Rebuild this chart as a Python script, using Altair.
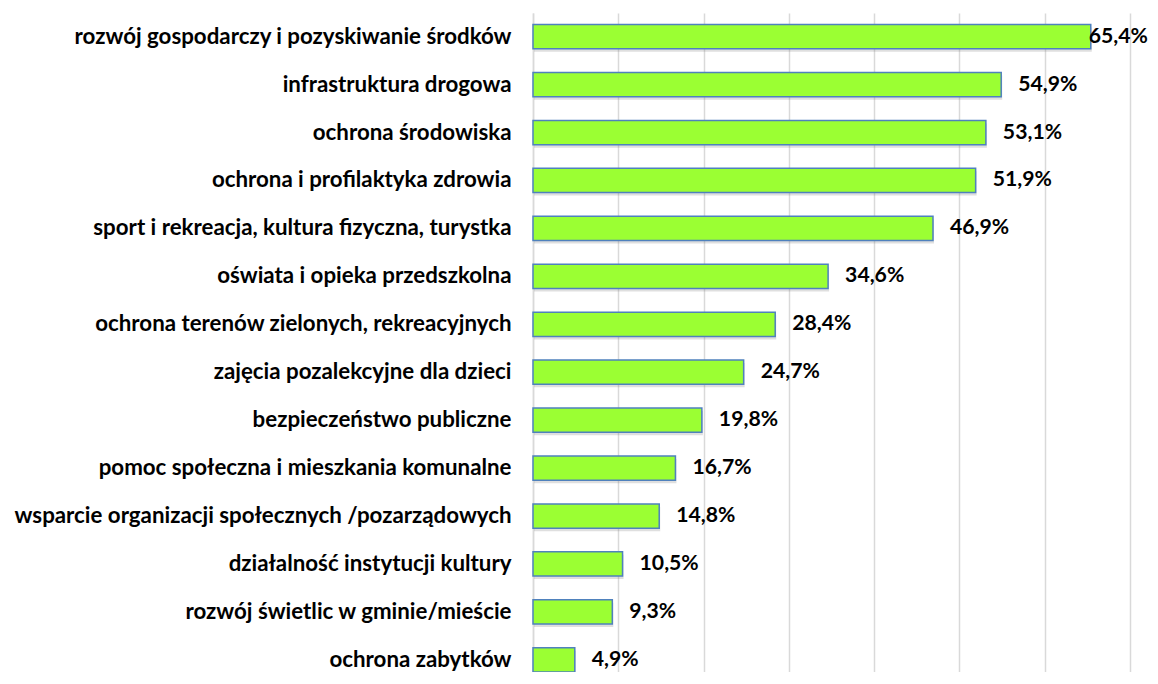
import altair as alt
import pandas as pd

categories = [
    "rozwój gospodarczy i pozyskiwanie środków",
    "infrastruktura drogowa",
    "ochrona środowiska ",
    "ochrona i profilaktyka zdrowia",
    "sport i rekreacja, kultura fizyczna, turystka",
    "oświata i opieka przedszkolna",
    "ochrona terenów zielonych, rekreacyjnych",
    "zajęcia pozalekcyjne dla dzieci",
    "bezpieczeństwo publiczne",
    "pomoc społeczna i mieszkania komunalne",
    "wsparcie organizacji społecznych /pozarządowych",
    "działalność instytucji kultury",
    "rozwój świetlic w gminie/mieście",
    "ochrona zabytków",
]
values = [65.4, 54.9, 53.1, 51.9, 46.9, 34.6, 28.4, 24.7, 19.8, 16.7, 14.8, 10.5, 9.3, 4.9]

df = pd.DataFrame({
    "cat": categories,
    "value": values,
    "label": [f"{v:.1f}%".replace(".", ",") for v in values],
})

FONT = "Lato"

y_enc = alt.Y(
    "cat:N",
    sort=None,
    scale=alt.Scale(paddingInner=0.494, paddingOuter=0.12, align=1, round=False),
    axis=alt.Axis(
        title=None,
        ticks=False,
        labelFont=FONT,
        labelFontWeight="bold",
        labelFontSize=22.3,
        labelColor="#000000",
        labelPadding=22,
        labelLimit=600,
        domainColor="#D9D9D9",
        domainWidth=1.5,
        grid=False,
    ),
)
x_enc = alt.X(
    "value:Q",
    scale=alt.Scale(domain=[0, 70], nice=False),
    axis=alt.Axis(
        title=None,
        labels=False,
        ticks=False,
        domain=False,
        values=[0, 10, 20, 30, 40, 50, 60, 70],
        grid=True,
        gridColor="#D9D9D9",
        gridWidth=1.5,
    ),
)

base = alt.Chart(df)

shadow = base.mark_bar(color="#7f7f7f", opacity=0.25, yOffset=3, xOffset=1).encode(
    x=x_enc, y=y_enc
)
bars = base.mark_bar(color="#9BFF33", stroke="#4F81BD", strokeWidth=1.5).encode(
    x=x_enc, y=y_enc
)
text_style = dict(align="left", baseline="middle", font=FONT, fontWeight="bold",
                  fontSize=21.2, color="#000000")
texts = base.transform_filter("datum.value < 60").mark_text(dx=17, **text_style).encode(
    x="value:Q", y=alt.Y("cat:N", sort=None), text="label:N"
)
text_top = base.transform_filter("datum.value >= 60").mark_text(dx=-2, **text_style).encode(
    x="value:Q", y=alt.Y("cat:N", sort=None), text="label:N"
)

chart = (
    alt.layer(shadow, bars, texts, text_top)
    .properties(
        width=597,
        height=659,
        autosize=alt.AutoSizeParams(type="none"),
        padding={"left": 525, "top": 5, "right": 19, "bottom": 0},
        background="#ffffff",
    )
    .configure_view(stroke=None)
)

chart.save("out.html", embed_options={"renderer": "svg", "actions": False})
